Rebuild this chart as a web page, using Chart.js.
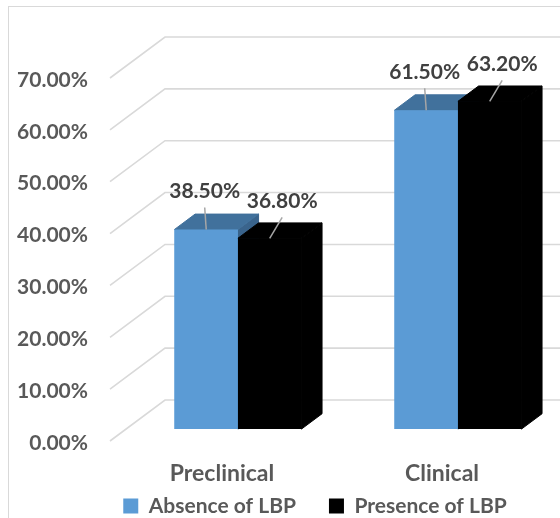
<!DOCTYPE html>
<html>
<head>
<meta charset="utf-8">
<script src="https://cdn.jsdelivr.net/npm/chart.js@4.4.1/dist/chart.umd.min.js"></script>
<style>
  html, body { margin: 0; padding: 0; background: #ffffff; }
  canvas { display: block; }
</style>
</head>
<body>
<canvas id="chart" width="560" height="518"></canvas>
<script>
const categories = ['Preclinical', 'Clinical'];
const absenceOfLBP = [38.5, 61.5];
const presenceOfLBP = [36.8, 63.2];
const seriesNames = ['Absence of LBP', 'Presence of LBP'];
const yTickValues = [0, 10, 20, 30, 40, 50, 60, 70];

const FONT_FAMILY = 'Lato';
const AXIS_TEXT = '#595959';
const VALUE_TEXT = '#404040';
const GRID_COLOR = '#d9d9d9';

// Oblique projection of the plot box: how far the back wall sits from the front plane.
const WALL_DEPTH = { dx: 55, dy: -41 };
const BAR_FRONT = 0.29;   // bars stand this far back from the front plane
const BAR_DEPTH = 0.375;  // and are this deep
const faceShades = [
  { top: '#41719c', side: '#3a648c' },
  { top: '#000000', side: '#000000' }
];
// where each series' value label sits relative to the top of its bar
const labelOffsets = [{ dx: -1.5, dy: -38 }, { dx: 12.5, dy: -37 }];
// legend row placement
const LEGEND_CENTER_X = 315;
const LEGEND_ROW_Y = 506;

const pct = v => Number(v).toFixed(2) + '%';

function fillFace(ctx, pts, color) {
  ctx.fillStyle = color;
  ctx.strokeStyle = color;
  ctx.lineWidth = 1;
  ctx.beginPath();
  ctx.moveTo(pts[0][0], pts[0][1]);
  for (let k = 1; k < pts.length; k++) ctx.lineTo(pts[k][0], pts[k][1]);
  ctx.closePath();
  ctx.fill();
  ctx.stroke();
}

const boxPlugin = {
  id: 'box3d',
  afterLayout(chart) {
    // put the legend row where it belongs under the category labels
    const lg = chart.legend;
    if (!lg) return;
    const pad = lg.options.labels.padding;
    const fontSize = lg.options.labels.font.size;
    const sx = LEGEND_CENTER_X - (lg.left + lg.right) / 2;
    const sy = LEGEND_ROW_Y - (lg.top + pad + fontSize / 2);
    lg.left += sx; lg.right += sx;
    lg.top += sy; lg.bottom += sy;
  },
  beforeDraw(chart) {
    const { ctx, chartArea, scales } = chart;
    const y = scales.y;
    ctx.save();
    // outer frame
    ctx.strokeStyle = GRID_COLOR;
    ctx.lineWidth = 1;
    ctx.strokeRect(8.5, 6.5, chart.width + 40, chart.height + 40);
    // gridlines: side wall diagonal, then along the back wall
    ctx.lineWidth = 1.6;
    const x0 = chartArea.left - 2;
    y.ticks.forEach(t => {
      const py = y.getPixelForValue(t.value);
      ctx.beginPath();
      ctx.moveTo(x0, py);
      ctx.lineTo(x0 + WALL_DEPTH.dx, py + WALL_DEPTH.dy);
      ctx.lineTo(chart.width, py + WALL_DEPTH.dy);
      ctx.stroke();
    });
    ctx.restore();
  },
  beforeDatasetsDraw(chart) {
    const ctx = chart.ctx;
    ctx.save();
    ctx.translate(WALL_DEPTH.dx * BAR_FRONT, WALL_DEPTH.dy * BAR_FRONT);
  },
  afterDatasetsDraw(chart) {
    const ctx = chart.ctx;
    const ddx = WALL_DEPTH.dx * BAR_DEPTH;
    const ddy = WALL_DEPTH.dy * BAR_DEPTH;
    // extrude each bar: right side, top, then its front face again on top
    chart.data.datasets.forEach((ds, i) => {
      const meta = chart.getDatasetMeta(i);
      meta.data.forEach(bar => {
        const { x, y, base, width } = bar.getProps(['x', 'y', 'base', 'width'], true);
        const l = x - width / 2, r = x + width / 2;
        fillFace(ctx, [[r, y], [r + ddx, y + ddy], [r + ddx, base + ddy], [r, base]], faceShades[i].side);
        fillFace(ctx, [[l, y], [r, y], [r + ddx, y + ddy], [l + ddx, y + ddy]], faceShades[i].top);
        bar.draw(ctx);
      });
    });
    // value labels with leader lines
    ctx.font = `bold 21px ${FONT_FAMILY}`;
    ctx.textAlign = 'center';
    ctx.textBaseline = 'middle';
    chart.data.datasets.forEach((ds, i) => {
      const meta = chart.getDatasetMeta(i);
      meta.data.forEach((bar, j) => {
        const { x, y } = bar.getProps(['x', 'y'], true);
        const lx = x + labelOffsets[i].dx;
        const ly = y + labelOffsets[i].dy;
        ctx.strokeStyle = '#a6a6a6';
        ctx.lineWidth = 1.5;
        ctx.beginPath();
        ctx.moveTo(x, y);
        ctx.lineTo(lx, ly + 16);
        ctx.stroke();
        ctx.fillStyle = VALUE_TEXT;
        ctx.fillText(pct(ds.data[j]), lx, ly);
      });
    });
    ctx.restore();
  }
};

new Chart(document.getElementById('chart'), {
  type: 'bar',
  data: {
    labels: categories,
    datasets: [
      { label: seriesNames[0], data: absenceOfLBP, backgroundColor: '#5b9bd5', borderWidth: 0 },
      { label: seriesNames[1], data: presenceOfLBP, backgroundColor: '#000000', borderWidth: 0 }
    ]
  },
  options: {
    responsive: false,
    animation: false,
    devicePixelRatio: 1,
    categoryPercentage: 0.577,
    barPercentage: 1,
    layout: { padding: { left: 0, right: 8, top: 78, bottom: -33 } },
    scales: {
      x: {
        grid: { display: false },
        border: { display: false },
        ticks: { color: AXIS_TEXT, font: { family: FONT_FAMILY, size: 23, weight: 'bold' }, padding: 11 },
        afterFit: s => { s.height = 46; }
      },
      y: {
        min: 0,
        max: 70,
        grid: { display: false, drawTicks: false },
        border: { display: false },
        afterBuildTicks: s => { s.ticks = yTickValues.map(v => ({ value: v })); },
        ticks: {
          color: AXIS_TEXT,
          font: { family: FONT_FAMILY, size: 21, weight: 'bold' },
          padding: 24,
          labelOffset: 2,
          callback: v => pct(v)
        },
        afterFit: s => { s.width = 112; }
      }
    },
    plugins: {
      tooltip: { enabled: false },
      legend: {
        position: 'bottom',
        labels: {
          boxWidth: 15,
          boxHeight: 15,
          padding: 33,
          color: AXIS_TEXT,
          font: { family: FONT_FAMILY, size: 21, weight: 'bold' }
        }
      }
    }
  },
  plugins: [boxPlugin]
});
</script>
</body>
</html>
